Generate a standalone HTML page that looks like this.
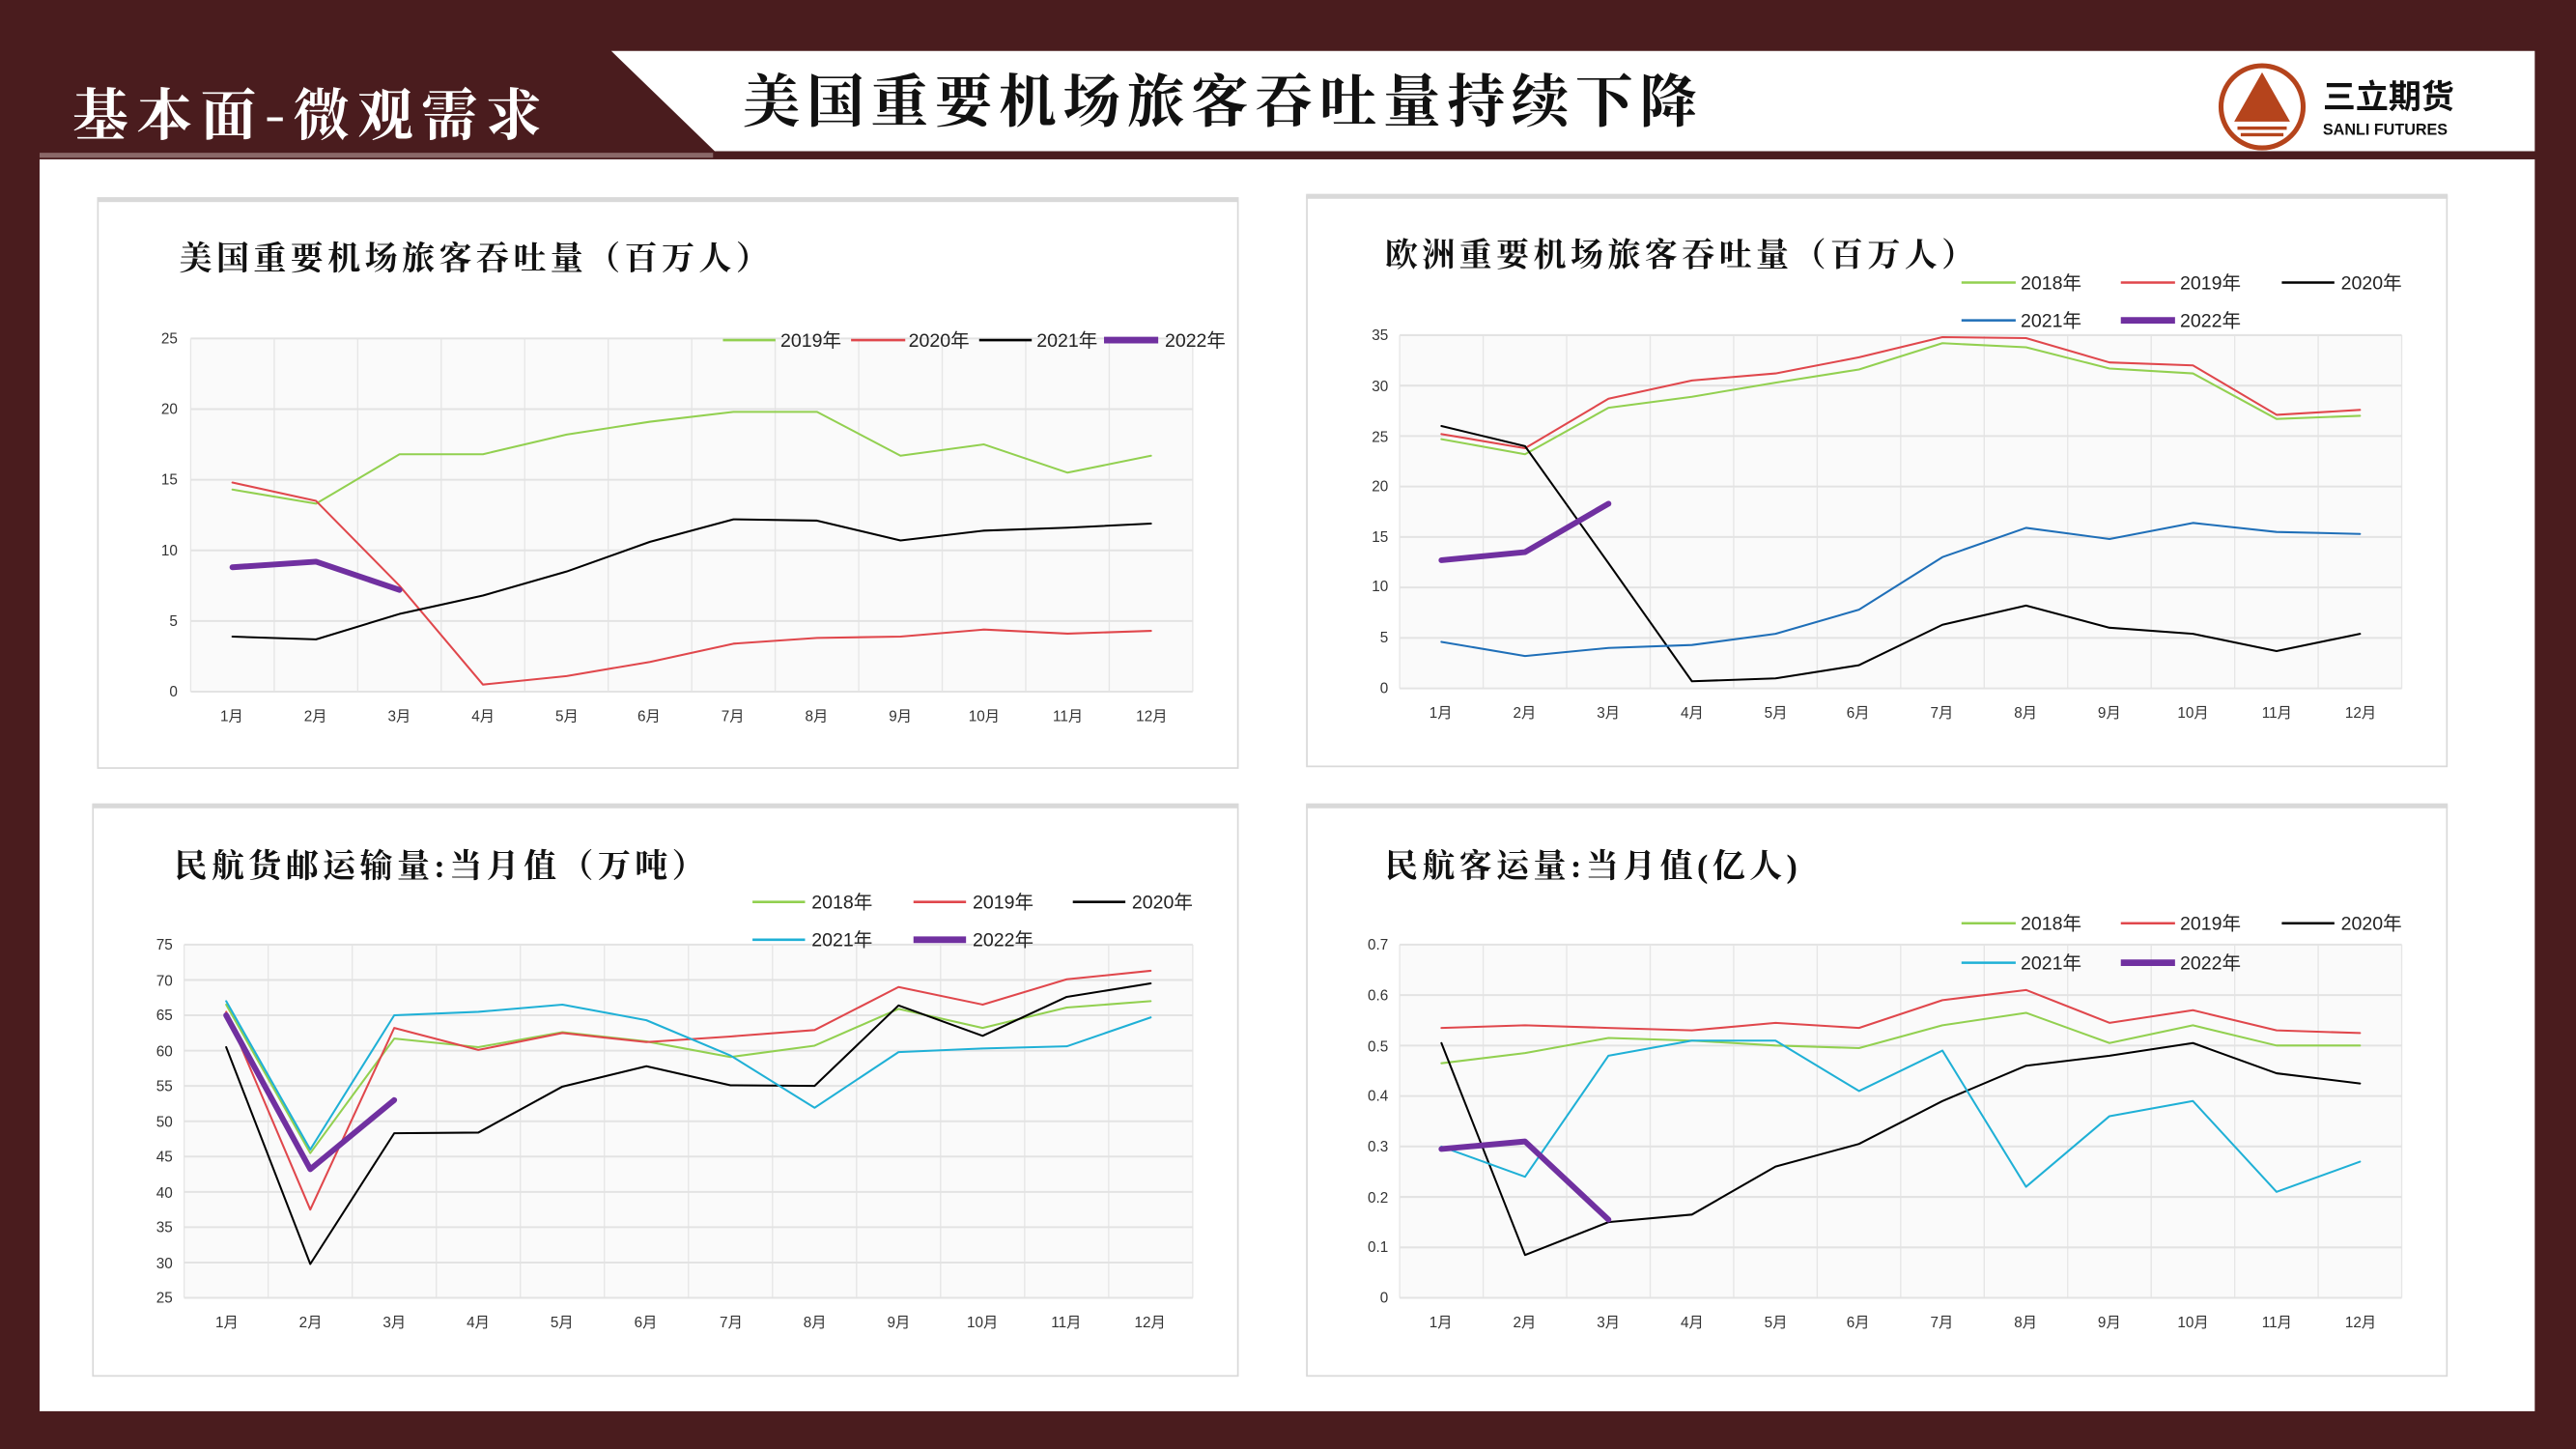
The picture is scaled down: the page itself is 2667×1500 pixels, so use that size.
<!DOCTYPE html>
<html><head><meta charset="utf-8"><style>
html,body{margin:0;padding:0;background:#4a1c1e;}
svg{display:block}
.t{font-family:"Liberation Sans","Noto Sans CJK SC",sans-serif;font-size:9px;fill:#333}
.lg{font-family:"Liberation Sans","Noto Sans CJK SC",sans-serif;font-size:11.5px;fill:#222}
.ti{font-family:"Liberation Serif","Noto Serif CJK SC",serif;font-size:20px;font-weight:bold;fill:#111;letter-spacing:2.6px}
</style></head><body>
<svg id="s" width="2667" height="1500" viewBox="0 0 1568 882" xmlns="http://www.w3.org/2000/svg">
<rect x="0" y="0" width="1568" height="882" fill="#4a1c1e"/>
<rect x="24" y="97" width="1519" height="762" fill="#fff"/>
<polygon points="372,31 1543,31 1543,92 435,92" fill="#fff"/>
<rect x="24" y="93" width="410" height="3" fill="#8a6868"/>
<text x="44" y="82" style="font-family:'Noto Serif CJK SC',serif;font-size:34px;font-weight:bold;fill:#fff;letter-spacing:5px">基本面-微观需求</text>
<text x="452" y="74" style="font-family:'Noto Serif CJK SC',serif;font-size:35px;font-weight:bold;fill:#111;letter-spacing:4px">美国重要机场旅客吞吐量持续下降</text>
<circle cx="1377" cy="65" r="25" fill="none" stroke="#b5441c" stroke-width="3"/>
<polygon points="1377,44 1360,74 1394,74" fill="#b5441c"/>
<rect x="1362" y="77" width="30" height="2" fill="#b5441c"/><rect x="1364" y="81" width="26" height="2" fill="#b5441c"/>
<text x="1414" y="66" style="font-family:'Noto Sans CJK SC',sans-serif;font-size:20px;font-weight:bold;fill:#111">三立期货</text>
<text x="1414" y="82" style="font-family:'Liberation Sans',sans-serif;font-size:9.5px;font-weight:bold;fill:#111">SANLI FUTURES</text>

<rect x="59.5" y="121.5" width="694" height="346" fill="#fff" stroke="#d9d9d9"/><rect x="59" y="120" width="695" height="3" fill="#d9d9d9"/>
<rect x="795.5" y="119.5" width="694" height="347" fill="#fff" stroke="#d9d9d9"/><rect x="795" y="118" width="695" height="3" fill="#d9d9d9"/>
<rect x="56.5" y="490.5" width="697" height="347" fill="#fff" stroke="#d9d9d9"/><rect x="56" y="489" width="698" height="3" fill="#d9d9d9"/>
<rect x="795.5" y="490.5" width="694" height="347" fill="#fff" stroke="#d9d9d9"/><rect x="795" y="489" width="695" height="3" fill="#d9d9d9"/>

<g id="g"></g>

<text class="ti" x="109" y="164">美国重要机场旅客吞吐量（百万人）</text>
<text class="ti" x="843" y="162">欧洲重要机场旅客吞吐量（百万人）</text>
<text class="ti" x="106" y="534">民航货邮运输量:当月值（万吨）</text>
<text class="ti" x="843" y="534">民航客运量:当月值(亿人)</text>

<g class="t" text-anchor="end">
<text x="108" y="209">25</text><text x="108" y="252">20</text><text x="108" y="295">15</text><text x="108" y="338">10</text><text x="108" y="381">5</text><text x="108" y="424">0</text>
<text x="845" y="207">35</text><text x="845" y="238">30</text><text x="845" y="269">25</text><text x="845" y="299">20</text><text x="845" y="330">15</text><text x="845" y="360">10</text><text x="845" y="391">5</text><text x="845" y="422">0</text>
<text x="105" y="578">75</text><text x="105" y="600">70</text><text x="105" y="621">65</text><text x="105" y="643">60</text><text x="105" y="664">55</text><text x="105" y="686">50</text><text x="105" y="707">45</text><text x="105" y="729">40</text><text x="105" y="750">35</text><text x="105" y="772">30</text><text x="105" y="793">25</text>
<text x="845" y="578">0.7</text><text x="845" y="609">0.6</text><text x="845" y="640">0.5</text><text x="845" y="670">0.4</text><text x="845" y="701">0.3</text><text x="845" y="732">0.2</text><text x="845" y="762">0.1</text><text x="845" y="793">0</text>
</g>
<g class="t" text-anchor="middle">
<text x="141" y="439">1月</text><text x="192" y="439">2月</text><text x="243" y="439">3月</text><text x="294" y="439">4月</text><text x="345" y="439">5月</text><text x="395" y="439">6月</text><text x="446" y="439">7月</text><text x="497" y="439">8月</text><text x="548" y="439">9月</text><text x="599" y="439">10月</text><text x="650" y="439">11月</text><text x="701" y="439">12月</text>
<text x="877" y="437">1月</text><text x="928" y="437">2月</text><text x="979" y="437">3月</text><text x="1030" y="437">4月</text><text x="1081" y="437">5月</text><text x="1131" y="437">6月</text><text x="1182" y="437">7月</text><text x="1233" y="437">8月</text><text x="1284" y="437">9月</text><text x="1335" y="437">10月</text><text x="1386" y="437">11月</text><text x="1437" y="437">12月</text>
<text x="138" y="808">1月</text><text x="189" y="808">2月</text><text x="240" y="808">3月</text><text x="291" y="808">4月</text><text x="342" y="808">5月</text><text x="393" y="808">6月</text><text x="445" y="808">7月</text><text x="496" y="808">8月</text><text x="547" y="808">9月</text><text x="598" y="808">10月</text><text x="649" y="808">11月</text><text x="700" y="808">12月</text>
<text x="877" y="808">1月</text><text x="928" y="808">2月</text><text x="979" y="808">3月</text><text x="1030" y="808">4月</text><text x="1081" y="808">5月</text><text x="1131" y="808">6月</text><text x="1182" y="808">7月</text><text x="1233" y="808">8月</text><text x="1284" y="808">9月</text><text x="1335" y="808">10月</text><text x="1386" y="808">11月</text><text x="1437" y="808">12月</text>
</g>

<g class="lg">
<line x1="440" y1="207" x2="472" y2="207" stroke="#92d050" stroke-width="1.5"/><text x="475" y="211">2019年</text>
<line x1="518" y1="207" x2="551" y2="207" stroke="#e0474c" stroke-width="1.5"/><text x="553" y="211">2020年</text>
<line x1="596" y1="207" x2="628" y2="207" stroke="#000" stroke-width="1.5"/><text x="631" y="211">2021年</text>
<line x1="672" y1="207" x2="705" y2="207" stroke="#7030a0" stroke-width="4"/><text x="709" y="211">2022年</text>

<line x1="1194" y1="172" x2="1227" y2="172" stroke="#92d050" stroke-width="1.5"/><text x="1230" y="176">2018年</text>
<line x1="1291" y1="172" x2="1324" y2="172" stroke="#e0474c" stroke-width="1.5"/><text x="1327" y="176">2019年</text>
<line x1="1389" y1="172" x2="1421" y2="172" stroke="#000" stroke-width="1.5"/><text x="1425" y="176">2020年</text>
<line x1="1194" y1="195" x2="1227" y2="195" stroke="#1f6fb8" stroke-width="1.5"/><text x="1230" y="199">2021年</text>
<line x1="1291" y1="195" x2="1324" y2="195" stroke="#7030a0" stroke-width="4"/><text x="1327" y="199">2022年</text>

<line x1="458" y1="549" x2="490" y2="549" stroke="#92d050" stroke-width="1.5"/><text x="494" y="553">2018年</text>
<line x1="556" y1="549" x2="588" y2="549" stroke="#e0474c" stroke-width="1.5"/><text x="592" y="553">2019年</text>
<line x1="653" y1="549" x2="685" y2="549" stroke="#000" stroke-width="1.5"/><text x="689" y="553">2020年</text>
<line x1="458" y1="572" x2="490" y2="572" stroke="#1fb0d6" stroke-width="1.5"/><text x="494" y="576">2021年</text>
<line x1="556" y1="572" x2="588" y2="572" stroke="#7030a0" stroke-width="4"/><text x="592" y="576">2022年</text>

<line x1="1194" y1="562" x2="1227" y2="562" stroke="#92d050" stroke-width="1.5"/><text x="1230" y="566">2018年</text>
<line x1="1291" y1="562" x2="1324" y2="562" stroke="#e0474c" stroke-width="1.5"/><text x="1327" y="566">2019年</text>
<line x1="1389" y1="562" x2="1421" y2="562" stroke="#000" stroke-width="1.5"/><text x="1425" y="566">2020年</text>
<line x1="1194" y1="586" x2="1227" y2="586" stroke="#1fb0d6" stroke-width="1.5"/><text x="1230" y="590">2021年</text>
<line x1="1291" y1="586" x2="1324" y2="586" stroke="#7030a0" stroke-width="4"/><text x="1327" y="590">2022年</text>
</g>
</svg>
<script>
var NS="http://www.w3.org/2000/svg",g=document.getElementById('g');
function el(t,a){var e=document.createElementNS(NS,t);for(var k in a)e.setAttribute(k,a[k]);g.appendChild(e);return e;}
var G='#92d050',R='#e0474c',K='#000',B='#1f6fb8',C='#1fb0d6',P='#7030a0';
function chart(x0,w,y0,y1,vmin,vmax,nt,series){
  el('rect',{x:x0,y:y0,width:w,height:y1-y0,fill:'#fafafa'});
  for(var i=0;i<=12;i++){var x=x0+w*i/12;el('line',{x1:x,y1:y0,x2:x,y2:y1,stroke:'#e6e6e6','stroke-width':0.8});}
  for(var j=0;j<=nt;j++){var y=y0+(y1-y0)*j/nt;el('line',{x1:x0,y1:y,x2:x0+w,y2:y,stroke:'#e3e3e3','stroke-width':1.2});}
  series.forEach(function(s){
    var pts=s[2].map(function(v,i){return (x0+w*(i+0.5)/12).toFixed(1)+','+(y1-(v-vmin)/(vmax-vmin)*(y1-y0)).toFixed(1);}).join(' ');
    el('polyline',{points:pts,fill:'none',stroke:s[0],'stroke-width':s[1],'stroke-linejoin':'round','stroke-linecap':'round'});
  });
}
chart(116,610,206,421,0,25,5,[
 [G,1.2,[14.3,13.3,16.8,16.8,18.2,19.1,19.8,19.8,16.7,17.5,15.5,16.7]],
 [R,1.2,[14.8,13.5,7.5,0.5,1.1,2.1,3.4,3.8,3.9,4.4,4.1,4.3]],
 [K,1.2,[3.9,3.7,5.5,6.8,8.5,10.6,12.2,12.1,10.7,11.4,11.6,11.9]],
 [P,3.5,[8.8,9.2,7.2]]]);
chart(852,610,204,419,0,35,7,[
 [G,1.2,[24.7,23.2,27.8,28.9,30.3,31.6,34.2,33.8,31.7,31.2,26.7,27.0]],
 [R,1.2,[25.2,23.8,28.7,30.5,31.2,32.8,34.8,34.7,32.3,32.0,27.1,27.6]],
 [K,1.2,[26.0,24.0,12.4,0.7,1.0,2.3,6.3,8.2,6.0,5.4,3.7,5.4]],
 [B,1.2,[4.6,3.2,4.0,4.3,5.4,7.8,13.0,15.9,14.8,16.4,15.5,15.3]],
 [P,3.5,[12.7,13.5,18.3]]]);
chart(112,614,575,790,25,75,10,[
 [G,1.2,[66.5,45.5,61.7,60.5,62.6,61.3,59.1,60.7,65.9,63.2,66.1,67.0]],
 [R,1.2,[65.5,37.5,63.2,60.1,62.5,61.2,62.0,62.9,69.0,66.5,70.1,71.3]],
 [K,1.2,[60.5,29.8,48.3,48.4,54.9,57.8,55.1,55.0,66.4,62.1,67.6,69.5]],
 [C,1.2,[67.0,46.0,65.0,65.5,66.5,64.3,59.3,51.9,59.8,60.3,60.6,64.7]],
 [P,3.5,[65.0,43.2,53.0]]]);
chart(852,610,575,790,0,0.7,7,[
 [G,1.2,[.465,.485,.515,.51,.50,.495,.54,.565,.505,.54,.50,.50]],
 [R,1.2,[.535,.54,.535,.53,.545,.535,.59,.61,.545,.57,.53,.525]],
 [K,1.2,[.505,.085,.15,.165,.26,.305,.39,.46,.48,.505,.445,.425]],
 [C,1.2,[.30,.24,.48,.51,.51,.41,.49,.22,.36,.39,.21,.27]],
 [P,3.5,[.295,.31,.155]]]);
</script>
</body></html>
